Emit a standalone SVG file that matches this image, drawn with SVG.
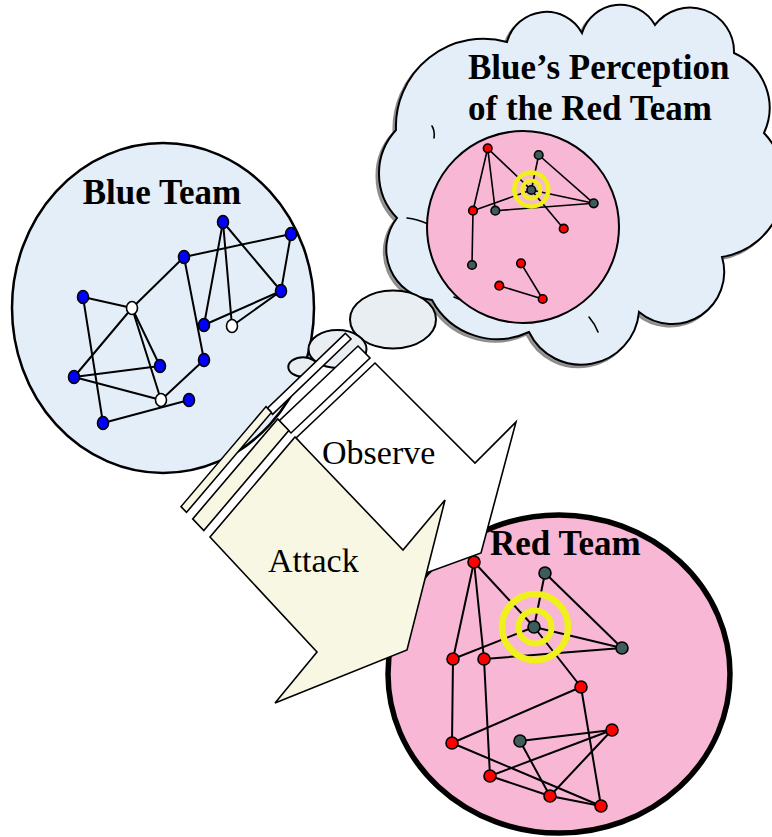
<svg xmlns="http://www.w3.org/2000/svg" width="772" height="837" viewBox="0 0 772 837">
<style>
.title{font-family:"Liberation Serif","Times New Roman",serif;font-weight:bold;font-size:35px;fill:#000}
.lbl{font-family:"Liberation Serif","Times New Roman",serif;font-size:34px;fill:#000}
.e{stroke:#000;stroke-width:2;fill:none;stroke-linecap:round}
.pe{stroke:#000;stroke-width:1.6;fill:none;stroke-linecap:round}
.bn{fill:#0000ff;stroke:#000;stroke-width:1.6}
.wn{fill:#ffffff;stroke:#000;stroke-width:1.6}
.rn{fill:#ff0000;stroke:#000;stroke-width:1.6}
.dn{fill:#3e5c5c;stroke:#000;stroke-width:1.6}
.ring{fill:none;stroke:#f0f01c}
.arrow{stroke:#000;stroke-width:1.6;stroke-linejoin:miter}
.bub{fill:#e9eef3;stroke:#000;stroke-width:2}
</style>

<!-- Blue Team -->
<g id="blue-team">
  <ellipse cx="163" cy="308" rx="151" ry="165" fill="#e4eef9" stroke="#000" stroke-width="2.5"/>
  <text class="title" x="162" y="204" text-anchor="middle">Blue Team</text>
  <g id="blue-edges">
    <line class="e" x1="223" y1="222" x2="204" y2="325"/>
    <line class="e" x1="223" y1="222" x2="232" y2="326"/>
    <line class="e" x1="223" y1="222" x2="281" y2="291"/>
    <line class="e" x1="184" y1="257" x2="291" y2="234"/>
    <line class="e" x1="291" y1="234" x2="281" y2="291"/>
    <line class="e" x1="204" y1="325" x2="281" y2="291"/>
    <line class="e" x1="232" y1="326" x2="281" y2="291"/>
    <line class="e" x1="74" y1="377" x2="132" y2="308"/>
    <line class="e" x1="132" y1="308" x2="184" y2="257"/>
    <line class="e" x1="184" y1="257" x2="204" y2="360"/>
    <line class="e" x1="204" y1="360" x2="161" y2="400"/>
    <line class="e" x1="83" y1="297" x2="132" y2="308"/>
    <line class="e" x1="83" y1="297" x2="103" y2="423"/>
    <line class="e" x1="132" y1="308" x2="160" y2="366"/>
    <line class="e" x1="132" y1="308" x2="161" y2="400"/>
    <line class="e" x1="74" y1="377" x2="160" y2="366"/>
    <line class="e" x1="74" y1="377" x2="161" y2="400"/>
    <line class="e" x1="103" y1="423" x2="189" y2="400"/>
  </g>
  <ellipse class="bn" cx="223" cy="222" rx="5.5" ry="6.5"/>
  <ellipse class="bn" cx="291" cy="234" rx="5.5" ry="6.5"/>
  <ellipse class="bn" cx="184" cy="257" rx="5.5" ry="6.5"/>
  <ellipse class="bn" cx="281" cy="291" rx="5.5" ry="6.5"/>
  <ellipse class="bn" cx="83" cy="297" rx="5.5" ry="6.5"/>
  <ellipse class="wn" cx="132" cy="308" rx="5.5" ry="6.5"/>
  <ellipse class="bn" cx="204" cy="325" rx="5.5" ry="6.5"/>
  <ellipse class="wn" cx="232" cy="326" rx="5.5" ry="6.5"/>
  <ellipse class="bn" cx="204" cy="360" rx="5.5" ry="6.5"/>
  <ellipse class="bn" cx="160" cy="366" rx="5.5" ry="6.5"/>
  <ellipse class="bn" cx="74" cy="377" rx="5.5" ry="6.5"/>
  <ellipse class="wn" cx="161" cy="400" rx="5.5" ry="6.5"/>
  <ellipse class="bn" cx="189" cy="400" rx="5.5" ry="6.5"/>
  <ellipse class="bn" cx="103" cy="423" rx="5.5" ry="6.5"/>
</g>

<!-- Blue's perception cloud -->
<g id="perception-cloud">
  <path transform="translate(-2.5,2.5)" fill="#9a9a9a" stroke="#8c8c8c" stroke-width="2" d="M396,130 A87.6,87.6 0 0 1 507,42 A40.7,40.7 0 0 1 582,33 A40,40 0 0 1 655,25 A44,44 0 0 1 734,53 A60,60 0 0 1 764,133 A74,74 0 0 1 722,257 A52,52 0 0 1 639,312 A58,58 0 0 1 529,332 A74,74 0 0 1 432,300 A51,51 0 0 1 397,218 A64,64 0 0 1 396,130 Z"/>
  <path fill="#e4eef9" stroke="#000" stroke-width="2" d="M396,130 A87.6,87.6 0 0 1 507,42 A40.7,40.7 0 0 1 582,33 A40,40 0 0 1 655,25 A44,44 0 0 1 734,53 A60,60 0 0 1 764,133 A74,74 0 0 1 722,257 A52,52 0 0 1 639,312 A58,58 0 0 1 529,332 A74,74 0 0 1 432,300 A51,51 0 0 1 397,218 A64,64 0 0 1 396,130 Z"/>
  <path class="pe" d="M432,126 Q435,131 434,138"/>
  <path class="pe" d="M407,218 Q417,219 428,224"/>
  <path class="pe" d="M454,297 L461,300"/>
  <path class="pe" d="M589,317 Q595,324 598,332"/>
  <text class="title" x="468" y="79">Blue’s Perception</text>
  <text class="title" x="468" y="120">of the Red Team</text>
  <circle cx="523" cy="227" r="96" fill="#f8b7d5" stroke="#000" stroke-width="2"/>
  <g id="perception-edges">
    <line class="pe" x1="487.7" y1="148.3" x2="473" y2="210.7"/>
    <line class="pe" x1="487.7" y1="148.3" x2="495.3" y2="210.7"/>
    <line class="pe" x1="487.7" y1="148.3" x2="531.3" y2="190"/>
    <line class="pe" x1="538.7" y1="155" x2="531.3" y2="190"/>
    <line class="pe" x1="538.7" y1="155" x2="593.7" y2="203.3"/>
    <line class="pe" x1="531.3" y1="190" x2="593.7" y2="203.3"/>
    <line class="pe" x1="531.3" y1="190" x2="473" y2="210.7"/>
    <line class="pe" x1="531.3" y1="190" x2="563.7" y2="228.7"/>
    <line class="pe" x1="495.3" y1="210.7" x2="593.7" y2="203.3"/>
    <line class="pe" x1="473" y1="210.7" x2="472" y2="265"/>
    <line class="pe" x1="521" y1="263.3" x2="542.7" y2="299"/>
    <line class="pe" x1="499.3" y1="285.7" x2="542.7" y2="299"/>
  </g>
  <circle class="ring" cx="531.3" cy="189.5" r="17" stroke-width="4.5"/>
  <circle class="ring" cx="531.3" cy="189.5" r="9" stroke-width="4"/>
  <circle class="rn" cx="487.7" cy="148.3" r="4.3" stroke-width="1.2"/>
  <circle class="dn" cx="538.7" cy="155" r="4.3" stroke-width="1.2"/>
  <circle class="dn" cx="531.3" cy="190" r="4.3" stroke-width="1.2"/>
  <circle class="dn" cx="593.7" cy="203.3" r="4.3" stroke-width="1.2"/>
  <circle class="rn" cx="473" cy="210.7" r="4.3" stroke-width="1.2"/>
  <circle class="dn" cx="495.3" cy="210.7" r="4.3" stroke-width="1.2"/>
  <circle class="rn" cx="563.7" cy="228.7" r="4.3" stroke-width="1.2"/>
  <circle class="dn" cx="472" cy="265" r="4.3" stroke-width="1.2"/>
  <circle class="rn" cx="521" cy="263.3" r="4.3" stroke-width="1.2"/>
  <circle class="rn" cx="499.3" cy="285.7" r="4.3" stroke-width="1.2"/>
  <circle class="rn" cx="542.7" cy="299" r="4.3" stroke-width="1.2"/>
</g>

<!-- Thought bubbles -->
<g id="thought-bubbles">
  <ellipse class="bub" cx="393" cy="319.5" rx="43" ry="29"/>
  <ellipse class="bub" cx="337.5" cy="349" rx="29" ry="19"/>
  <ellipse class="bub" cx="303" cy="367" rx="14.7" ry="9.7"/>
</g>

<!-- Red Team -->
<g id="red-team">
  <ellipse cx="559" cy="674" rx="171" ry="159" fill="#f8b7d5" stroke="#000" stroke-width="5.5"/>
  <text class="title" x="490" y="555">Red Team</text>
  <g id="red-edges">
    <line class="e" x1="474" y1="562" x2="453" y2="659"/>
    <line class="e" x1="474" y1="562" x2="484" y2="659"/>
    <line class="e" x1="474" y1="562" x2="534" y2="627"/>
    <line class="e" x1="545" y1="573" x2="534" y2="627"/>
    <line class="e" x1="545" y1="573" x2="622" y2="648"/>
    <line class="e" x1="534" y1="627" x2="622" y2="648"/>
    <line class="e" x1="534" y1="627" x2="453" y2="659"/>
    <line class="e" x1="534" y1="627" x2="581" y2="687"/>
    <line class="e" x1="484" y1="659" x2="622" y2="648"/>
    <line class="e" x1="453" y1="659" x2="452" y2="743"/>
    <line class="e" x1="484" y1="659" x2="490" y2="776"/>
    <line class="e" x1="581" y1="687" x2="452" y2="743"/>
    <line class="e" x1="581" y1="687" x2="601" y2="806"/>
    <line class="e" x1="452" y1="743" x2="601" y2="806"/>
    <line class="e" x1="520" y1="741" x2="612" y2="730"/>
    <line class="e" x1="520" y1="741" x2="550" y2="796"/>
    <line class="e" x1="612" y1="730" x2="490" y2="776"/>
    <line class="e" x1="612" y1="730" x2="550" y2="796"/>
    <line class="e" x1="490" y1="776" x2="550" y2="796"/>
    <line class="e" x1="550" y1="796" x2="601" y2="806"/>
  </g>
  <circle class="ring" cx="535" cy="627" r="33" stroke-width="6.5"/>
  <circle class="ring" cx="535" cy="627" r="16.5" stroke-width="6"/>
  <circle class="rn" cx="474" cy="562" r="6"/>
  <circle class="dn" cx="545" cy="573" r="6"/>
  <circle class="dn" cx="534" cy="627" r="6"/>
  <circle class="dn" cx="622" cy="648" r="6"/>
  <circle class="rn" cx="453" cy="659" r="6"/>
  <circle class="rn" cx="484" cy="659" r="6"/>
  <circle class="rn" cx="581" cy="687" r="6"/>
  <circle class="rn" cx="452" cy="743" r="6"/>
  <circle class="dn" cx="520" cy="741" r="6"/>
  <circle class="rn" cx="612" cy="730" r="6"/>
  <circle class="rn" cx="490" cy="776" r="6"/>
  <circle class="rn" cx="550" cy="796" r="6"/>
  <circle class="rn" cx="601" cy="806" r="6"/>
</g>

<!-- Observe arrow -->
<g id="observe-arrow">
  <polygon class="arrow" fill="#ffffff" points="345.3,333.3 351,339 272.6,414.4 266.9,408.7"/>
  <polygon class="arrow" fill="#ffffff" points="358,346 370,358 291,433 279,421"/>
  <polygon class="arrow" fill="#ffffff" points="375,363 475,463 516,422 481,553 352,600 397,552 296,438"/>
  <text class="lbl" x="322" y="464">Observe</text>
</g>

<!-- Attack arrow -->
<g id="attack-arrow">
  <polygon class="arrow" fill="#f7f7e3" points="266,406.6 271.5,412.4 186.5,512.4 181,506.6"/>
  <polygon class="arrow" fill="#f7f7e3" points="277.7,418.9 288.8,430.5 203.8,530.5 192.7,518.9"/>
  <polygon class="arrow" fill="#f7f7e3" points="295,437 403,550 445,500 407,650 275,703 317,652 210,537"/>
  <text class="lbl" x="268" y="572">Attack</text>
</g>
</svg>
